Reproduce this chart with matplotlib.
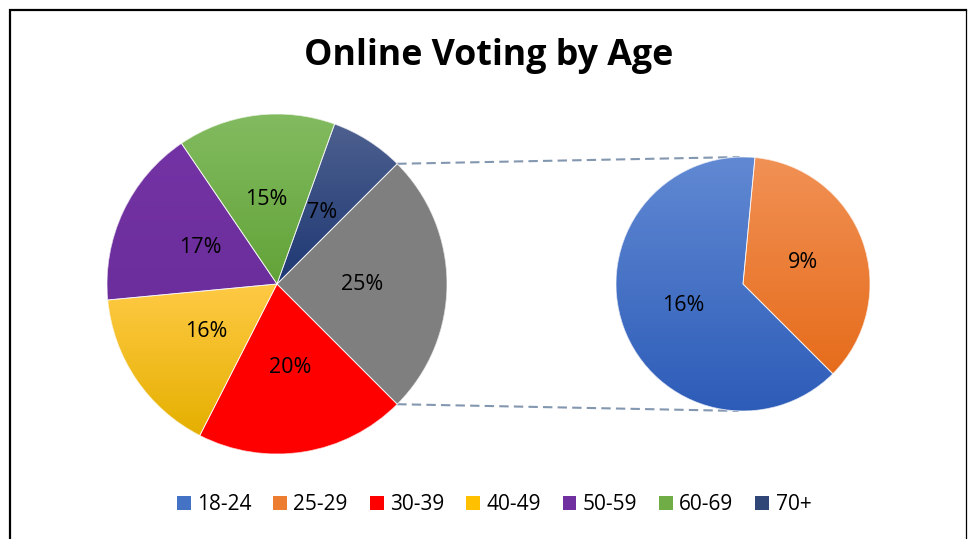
import numpy as np
import matplotlib
matplotlib.use("Agg")
import matplotlib.pyplot as plt
from matplotlib.colors import LinearSegmentedColormap
from matplotlib.patches import Patch, Wedge

# ---------------- data ----------------
title = "Online Voting by Age"
categories = ["18-24", "25-29", "30-39", "40-49", "50-59", "60-69", "70+"]
main_labels = ["30-39", "40-49", "50-59", "60-69", "70+", "Other"]
main_values = [20, 16, 17, 15, 7, 25]
sub_labels = ["18-24", "25-29"]
sub_values = [16, 9]

# (top colour, bottom colour) of each slice's gradient
grad_colors = {
    "18-24": ("#6189D3", "#2D5CB8"),
    "25-29": ("#F19155", "#E66C1B"),
    "30-39": ("#FF0000", "#FF0000"),
    "40-49": ("#FFCA45", "#E5B000"),
    "50-59": ("#7433A4", "#6C2E9C"),
    "60-69": ("#82BB60", "#62A338"),
    "70+":   ("#4D608F", "#1E3873"),
    "Other": ("#808080", "#7F7F7F"),
}
legend_colors = {
    "18-24": "#4472C4", "25-29": "#ED7D31", "30-39": "#FF0000",
    "40-49": "#FFC000", "50-59": "#7030A0", "60-69": "#70AD47", "70+": "#2F4677",
}

FONT = ["Open Sans", "DejaVu Sans"]
W, H = 969, 539

fig = plt.figure(figsize=(W / 100, H / 100), dpi=100)
ax = fig.add_axes([0, 0, 1, 1])

c1, r1 = (277, H - 284), 170
c2, r2 = (743, H - 284), 127

total = sum(main_values)
other = main_values[-1]
start1 = -other / total * 180.0


def fmt_main(p):
    return f"{p * total / 100 / total * 100:.0f}%"


sub_total = sum(sub_values)


def fmt_sub(p):
    return f"{p * sub_total / 100 / total * 100:.0f}%"


tp = dict(fontsize=15.5, family=FONT, color="black")
w1, _, at1 = ax.pie(main_values, center=c1, radius=r1, startangle=start1,
                    counterclock=False, autopct=fmt_main, pctdistance=0.5,
                    textprops=tp, frame=True,
                    wedgeprops=dict(linewidth=0))
w2, _, at2 = ax.pie(sub_values, center=c2, radius=r2, startangle=-45,
                    counterclock=False, autopct=fmt_sub, pctdistance=0.5,
                    textprops=tp, frame=True,
                    wedgeprops=dict(linewidth=0))


def gradient_fill(wedge, top, bottom):
    ext = wedge.get_path().get_extents()
    cmap = LinearSegmentedColormap.from_list("g", [bottom, top])
    img = np.linspace(0, 1, 256).reshape(-1, 1)
    im = ax.imshow(img, cmap=cmap, origin="lower", aspect="auto",
                   extent=[ext.x0, ext.x1, ext.y0, ext.y1],
                   interpolation="bilinear", zorder=1.2)
    im.set_clip_path(wedge)
    wedge.set_facecolor(cmap(0.5))
    edge = Wedge(wedge.center, wedge.r, wedge.theta1, wedge.theta2,
                 facecolor="none", edgecolor="white", linewidth=0.6,
                 alpha=0.8, zorder=1.5)
    ax.add_patch(edge)


for w, lab in zip(w1, main_labels):
    gradient_fill(w, *grad_colors[lab])
for w, lab in zip(w2, sub_labels):
    gradient_fill(w, *grad_colors[lab])
for t in list(at1) + list(at2):
    t.set_zorder(3)

# connector lines
a = np.deg2rad(other / total * 180.0)
p_top = (c1[0] + r1 * np.cos(a), c1[1] + r1 * np.sin(a))
p_bot = (c1[0] + r1 * np.cos(-a), c1[1] + r1 * np.sin(-a))
b_top, b_bot = np.deg2rad(91.5), np.deg2rad(-92)
q_top = (c2[0] + r2 * np.cos(b_top), c2[1] + r2 * np.sin(b_top))
q_bot = (c2[0] + r2 * np.cos(b_bot), c2[1] + r2 * np.sin(b_bot))
for p, q in ((p_top, q_top), (p_bot, q_bot)):
    ax.plot([p[0], q[0]], [p[1], q[1]], color="#8497B0", lw=1.5,
            ls=(0, (4.5, 2.5)), zorder=0.8, solid_capstyle="butt")

# frame around chart
ax.plot([10, 10, 966], [0, H - 10, H - 10], color="black", lw=1.6,
        solid_joinstyle="miter", zorder=4)
ax.plot([966, 966], [H - 10, 0], color="black", lw=0.9, zorder=4)

ax.set_xlim(0, W)
ax.set_ylim(0, H)
ax.set_aspect("auto")
ax.axis("off")

# title
tt = ax.text(489, H - 65, title, ha="center", va="baseline", fontsize=22,
             fontweight="bold", family=FONT, color="black")
fig.canvas.draw()
rend = fig.canvas.get_renderer()
bw = tt.get_window_extent(rend).width
tt.set_fontsize(22 * 368 / bw)

# legend
handles = [Patch(facecolor=legend_colors[c], edgecolor="none") for c in categories]
fig.legend(handles, categories, loc="center", ncol=len(categories),
           bbox_to_anchor=(494 / W, 1 - 505 / H), frameon=False,
           prop=dict(family=FONT, size=15), handlelength=0.67,
           handleheight=0.67, handletextpad=0.3, columnspacing=1.05,
           borderaxespad=0)

fig.savefig("out.png", dpi=100)
